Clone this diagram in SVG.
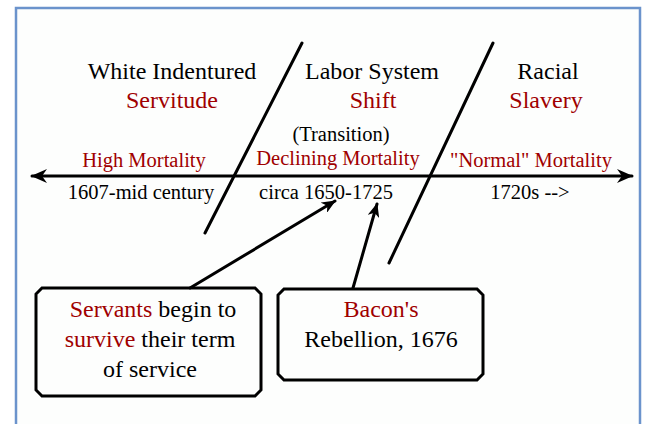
<svg xmlns="http://www.w3.org/2000/svg" width="645" height="424" viewBox="0 0 645 424">
<defs>
<style>
text{font-family:"Liberation Serif","Times New Roman",serif;fill:#000;text-anchor:middle}
.h{font-size:24px}
.m{font-size:20.5px}
.b{font-size:24px}
.r{fill:#a00000}
.ln{stroke:#000;stroke-width:3;fill:none;stroke-linecap:round}
.box{fill:none;stroke:#000;stroke-width:3}
</style>
<marker id="ah" viewBox="0 0 16 14" refX="15" refY="7" markerWidth="16" markerHeight="14" markerUnits="userSpaceOnUse" orient="auto-start-reverse">
<path d="M0,0 L16,7 L0,14 L5,7 Z" fill="#000"/>
</marker>
<marker id="ah2" viewBox="0 0 14 12" refX="13" refY="6" markerWidth="14" markerHeight="12" markerUnits="userSpaceOnUse" orient="auto">
<path d="M0,0 L14,6 L0,12 L4,6 Z" fill="#000"/>
</marker>
</defs>
<rect x="0" y="0" width="645" height="424" fill="#fff"/>
<rect x="16" y="8" width="624" height="430" fill="#fdfefd" stroke="#6b93cc" stroke-width="2.5"/>
<g id="connectors">
<line class="ln" x1="32" y1="176" x2="632" y2="176" marker-start="url(#ah)" marker-end="url(#ah)"/>
<line class="ln" x1="302" y1="43" x2="205" y2="233"/>
<line class="ln" x1="493" y1="43" x2="389" y2="263"/>
<line class="ln" x1="190" y1="288" x2="335" y2="201" marker-end="url(#ah2)"/>
<line class="ln" x1="353" y1="288" x2="377" y2="204" marker-end="url(#ah2)"/>
</g>
<g id="period-white">
<text class="h" x="172" y="79">White Indentured</text>
<text class="h r" x="172" y="108">Servitude</text>
<text class="m r" x="144" y="167">High Mortality</text>
<text class="m" x="141" y="199">1607-mid century</text>
</g>
<g id="period-shift">
<text class="h" x="372" y="79">Labor System</text>
<text class="h r" x="373" y="108">Shift</text>
<text class="m" x="341" y="141">(Transition)</text>
<text class="m r" x="338" y="165">Declining Mortality</text>
<text class="m" x="326" y="199">circa 1650-1725</text>
</g>
<g id="period-racial">
<text class="h" x="548" y="79">Racial</text>
<text class="h r" x="546" y="108">Slavery</text>
<text class="m r" x="531" y="167">"Normal" Mortality</text>
<text class="m" x="530" y="199">1720s --&gt;</text>
</g>
<g id="servants">
<path class="box" d="M42,288 H255 L261,294 V390 L255,396 H42 L36,390 V294 Z"/>
<text class="b" x="153" y="317"><tspan class="r">Servants</tspan> begin to</text>
<text class="b" x="150" y="347"><tspan class="r">survive</tspan> their term</text>
<text class="b" x="150" y="377">of service</text>
</g>
<g id="bacon">
<path class="box" d="M284,289 H477 L483,295 V374 L477,380 H284 L278,374 V295 Z"/>
<text class="b r" x="381" y="317">Bacon's</text>
<text class="b" x="381" y="347">Rebellion, 1676</text>
</g>
</svg>
